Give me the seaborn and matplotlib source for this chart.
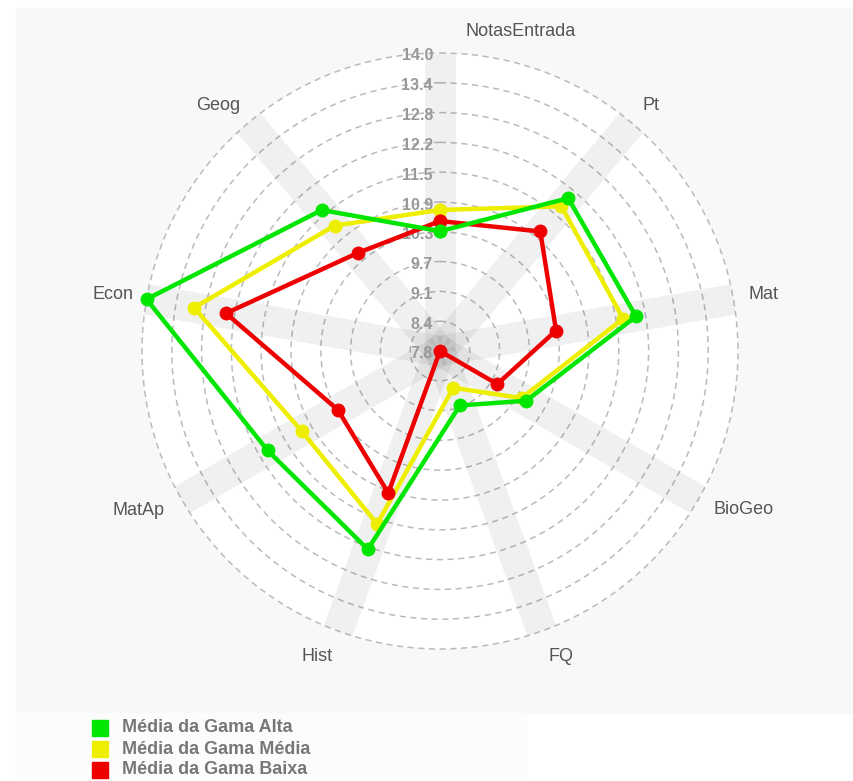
import numpy as np
import pandas as pd
import matplotlib.pyplot as plt
import seaborn as sns
from matplotlib.patches import Rectangle

# data
disciplinas = ['NotasEntrada', 'Pt', 'Mat', 'BioGeo', 'FQ', 'Hist', 'MatAp', 'Econ', 'Geog']
gama_alta = [10.31, 11.96, 11.95, 9.89, 9.03, 12.2, 11.95, 14.0, 11.64]
gama_media = [10.75, 11.74, 11.68, 9.78, 8.64, 11.64, 11.14, 13.0, 11.22]
gama_baixa = [10.52, 11.06, 10.27, 9.2, 7.83, 10.96, 10.27, 12.33, 10.48]
series_nomes = ['Média da Gama Alta', 'Média da Gama Média', 'Média da Gama Baixa']
cores = ['#00e600', '#eeee00', '#ee0000']
r_min, r_max = 7.83, 14.0
tick_labels = ['7.8', '8.4', '9.1', '9.7', '10.3', '10.9', '11.5', '12.2', '12.8', '13.4', '14.0']

sns.set_style('white')
plt.rcParams['font.family'] = ['Liberation Sans', 'DejaVu Sans']

W, H = 854, 781
fig = plt.figure(figsize=(W / 100, H / 100), dpi=100)
fig.patch.set_facecolor('white')

# background panels
fig.add_artist(Rectangle((16 / W, 1 - 713 / H), (W - 16) / W, 705 / H,
                         transform=fig.transFigure, color='#f8f8f8', zorder=0))
fig.add_artist(Rectangle((16 / W, 0), (526 - 16) / W, 68 / H,
                         transform=fig.transFigure, color='#fcfcfc', zorder=0))

cx, cy, R = 440, 351, 298
ax = fig.add_axes([(cx - R) / W, (H - cy - R) / H, 2 * R / W, 2 * R / H], polar=True)
ax.set_facecolor('white')
ax.set_theta_offset(np.pi / 2)
ax.set_theta_direction(-1)
ax.set_ylim(r_min, r_max)

n = len(disciplinas)
theta = np.arange(n) * 2 * np.pi / n

# spoke bands
for t in theta:
    ax.plot([t, t], [r_min, r_max], color='black', alpha=0.06, lw=22,
            solid_capstyle='butt', zorder=1)

ticks = np.linspace(r_min, r_max, len(tick_labels))
ax.set_yticks(ticks)
ax.set_yticklabels([])
ax.set_xticks(theta)
ax.set_xticklabels([])
ax.xaxis.grid(False)
ax.yaxis.grid(True, color='#bbbbbb', linestyle=(0, (4, 3)), lw=1.1)
for gl in ax.yaxis.get_gridlines():
    gl.set_clip_on(False)
ax.spines['polar'].set_visible(False)

for v, lab in zip(ticks, tick_labels):
    ax.annotate(lab, xy=(0, v), xytext=(-7, -3), textcoords='offset pixels',
                ha='right', va='center', fontsize=11.5, fontweight='bold',
                color='#999999', zorder=2)

# series
t_closed = np.append(theta, 2 * np.pi)
zs = [6, 4, 5]
for nome, vals, cor, z in zip(series_nomes, [gama_alta, gama_media, gama_baixa], cores, zs):
    df = pd.DataFrame({'theta': t_closed, 'valor': vals + vals[:1]})
    sns.lineplot(data=df, x='theta', y='valor', ax=ax, sort=False, estimator=None,
                 color=cor, lw=3.2, marker='o', markersize=10, markeredgewidth=0,
                 zorder=z, clip_on=False)
ax.set_xlabel('')
ax.set_ylabel('')

# axis labels
offsets = [(81, 22), (19, 17), (30, 5), (45, -10), (19, -25),
           (-21, -25), (-43, -10), (-34, 5), (-30, 17)]
for t, lab, (dx, dy) in zip(theta, disciplinas, offsets):
    ax.annotate(lab, xy=(t, r_max), xytext=(dx, dy), textcoords='offset pixels',
                ha='center', va='center', fontsize=13, color='#555555',
                annotation_clip=False)

# legend
for i, (nome, cor) in enumerate(zip(series_nomes, cores)):
    yc = 728 + i * 21
    fig.add_artist(Rectangle((92 / W, 1 - (yc + 8) / H), 16 / W, 16 / H,
                             transform=fig.transFigure, color=cor, zorder=3))
    fig.text(122 / W, 1 - yc / H, nome, ha='left', va='center', fontsize=13,
             fontweight='bold', color='#777777')

fig.savefig('out.png', dpi=100)
